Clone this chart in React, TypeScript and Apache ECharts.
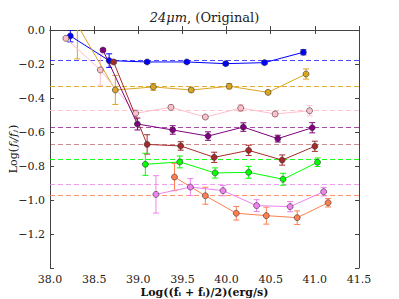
import React, { useEffect, useRef } from "react";
import * as echarts from "echarts";

// ---- data ----
const blueX = [38.23, 38.67, 39.1, 39.55, 39.99, 40.43, 40.87];
const blueY = [-0.035, -0.18, -0.188, -0.188, -0.198, -0.192, -0.131];
const blueE = [0.035, 0.04, 0.008, 0.008, 0.008, 0.008, 0.015];
const blueMean = -0.176;

const goldX = [38.31, 38.74, 39.17, 39.6, 40.03, 40.47, 40.9];
const goldY = [0.03, -0.353, -0.335, -0.353, -0.331, -0.367, -0.259];
const goldE = [0.2, 0.085, 0.02, 0.012, 0.015, 0.01, 0.03];
const goldMean = -0.33;

const pinkX = [38.18, 38.57, 38.97, 39.37, 39.76, 40.16, 40.55, 40.94];
const pinkY = [-0.049, -0.235, -0.49, -0.455, -0.512, -0.459, -0.494, -0.475];
const pinkE = [0.01, 0.09, 0.02, 0.015, 0.01, 0.02, 0.015, 0.03];
const pinkMean = -0.465;

const purpleX = [38.6, 38.99, 39.39, 39.79, 40.19, 40.58, 40.97];
const purpleY = [-0.118, -0.553, -0.588, -0.624, -0.571, -0.639, -0.575];
const purpleE = [0.01, 0.035, 0.025, 0.025, 0.025, 0.02, 0.03];
const purpleMean = -0.575;

const brownX = [38.72, 39.1, 39.48, 39.86, 40.25, 40.63, 41.0];
const brownY = [-0.188, -0.673, -0.682, -0.749, -0.708, -0.765, -0.684];
const brownE = [0.01, 0.057, 0.025, 0.03, 0.03, 0.03, 0.03];
const brownMean = -0.67;

const greenX = [39.08, 39.47, 39.87, 40.25, 40.64, 41.03];
const greenY = [-0.79, -0.776, -0.841, -0.837, -0.878, -0.778];
const greenE = [0.065, 0.035, 0.03, 0.035, 0.035, 0.025];
const greenMean = -0.755;

const violetX = [39.2, 39.59, 39.96, 40.34, 40.72, 41.1];
const violetY = [-0.967, -0.924, -0.945, -1.033, -1.039, -0.951];
const violetE = [0.11, 0.05, 0.03, 0.035, 0.03, 0.025];
const violetMean = -0.908;

const coralX = [39.41, 39.76, 40.11, 40.45, 40.8, 41.15];
const coralY = [-0.865, -0.975, -1.078, -1.092, -1.104, -1.016];
const coralE = [0.08, 0.05, 0.04, 0.05, 0.04, 0.025];
const coralMean = -0.97;

const xTickLabels = ["38.0", "38.5", "39.0", "39.5", "40.0", "40.5", "41.0", "41.5"];
const yTickLabels = ["0.0", "\u22120.2", "\u22120.4", "\u22120.6", "\u22120.8", "\u22121.0", "\u22121.2", ""];

const GROUPS = [
  { x: blueX, y: blueY, e: blueE, mean: blueMean, color: "#0000ff", dash: "rgba(0,0,255,0.7)" },
  { x: goldX, y: goldY, e: goldE, mean: goldMean, color: "#daa520", dash: "rgba(218,165,32,0.9)" },
  { x: pinkX, y: pinkY, e: pinkE, mean: pinkMean, color: "#ffc0cb", dash: "rgba(255,192,203,0.9)" },
  { x: purpleX, y: purpleY, e: purpleE, mean: purpleMean, color: "#800080", dash: "rgba(128,0,128,0.7)" },
  { x: brownX, y: brownY, e: brownE, mean: brownMean, color: "#a52a2a", dash: "rgba(165,42,42,0.55)" },
  { x: greenX, y: greenY, e: greenE, mean: greenMean, color: "#00ff00", dash: "rgba(0,255,0,0.9)" },
  { x: violetX, y: violetY, e: violetE, mean: violetMean, color: "#ee82ee", dash: "rgba(238,130,238,0.8)" },
  { x: coralX, y: coralY, e: coralE, mean: coralMean, color: "#ff7f50", dash: "rgba(255,127,80,0.85)" },
];

const FONT = "DejaVu Serif";

export default function App() {
  const ref = useRef<HTMLDivElement>(null);
  useEffect(() => {
    if (!ref.current) return;
    const chart = echarts.init(ref.current, null, { renderer: "svg" });
    const series: any[] = [];
    GROUPS.forEach((g) => {
      const data = g.x.map((xv, i) => [xv, g.y[i], g.e[i]]);
      series.push({
        type: "custom",
        clip: true,
        data,
        renderItem: (params: any, api: any) => {
          const xv = api.value(0);
          const yv = api.value(1);
          const ev = api.value(2);
          const top = api.coord([xv, yv + ev]);
          const bot = api.coord([xv, yv - ev]);
          const w = 3;
          const st = { stroke: g.color, lineWidth: 1 };
          return {
            type: "group",
            children: [
              { type: "line", shape: { x1: top[0], y1: top[1], x2: bot[0], y2: bot[1] }, style: st },
              { type: "line", shape: { x1: top[0] - w, y1: top[1], x2: top[0] + w, y2: top[1] }, style: st },
              { type: "line", shape: { x1: bot[0] - w, y1: bot[1], x2: bot[0] + w, y2: bot[1] }, style: st },
            ],
          };
        },
        z: 2,
      });
      series.push({
        type: "line",
        data: g.x.map((xv, i) => [xv, g.y[i]]),
        clip: true,
        symbol: "circle",
        symbolSize: 6,
        lineStyle: { color: g.color, width: 1 },
        itemStyle: { color: g.color, borderColor: "#333", borderWidth: 0.6 },
        z: 3,
        markLine: {
          silent: true,
          symbol: "none",
          label: { show: false },
          lineStyle: { color: g.dash, type: [5, 3], width: 1.2 },
          data: [{ yAxis: g.mean }],
          z: 1,
        },
      });
    });

    const axisLine = { show: true, lineStyle: { color: "#444", width: 1 } };
    const tick = { show: true, inside: true, length: 4, lineStyle: { color: "#444" } };
    const labelStyle = { fontFamily: FONT, fontSize: 11, lineHeight: 12, color: "#222" };

    chart.setOption({
      animation: false,
      backgroundColor: "#fff",
      textStyle: { fontFamily: FONT },
      grid: { left: 50, right: 40, top: 30, bottom: 31, containLabel: false },
      xAxis: [
        {
          type: "value", min: 38, max: 41.5, interval: 0.5, position: "bottom",
          axisLine, axisTick: tick, splitLine: { show: false },
          axisLabel: { ...labelStyle, margin: 5, formatter: (v: number) => xTickLabels[Math.round((v - 38) / 0.5)] ?? "" },
        },
        {
          type: "value", min: 38, max: 41.5, interval: 0.5, position: "top",
          axisLine, axisTick: tick, splitLine: { show: false }, axisLabel: { show: false },
        },
      ],
      yAxis: [
        {
          type: "value", min: -1.4, max: 0, interval: 0.2, position: "left",
          axisLine, axisTick: tick, splitLine: { show: false },
          axisLabel: { ...labelStyle, margin: 5, formatter: (v: number) => yTickLabels[Math.round(-v / 0.2)] ?? "" },
        },
        {
          type: "value", min: -1.4, max: 0, interval: 0.2, position: "right",
          axisLine, axisTick: tick, splitLine: { show: false }, axisLabel: { show: false },
        },
      ],
      series,
      graphic: [
        {
          type: "text", x: 204.5, y: 17,
          style: {
            text: "{it|24\u03bcm}{n|, (Original)}",
            align: "center", verticalAlign: "middle",
            rich: {
              it: { fontFamily: FONT, fontSize: 13, fontStyle: "italic", fill: "#222" },
              n: { fontFamily: FONT, fontSize: 13, fill: "#222" },
            },
          },
        },
        {
          type: "text", x: 204.5, y: 292,
          style: {
            text: "Log((f\u1d62 + f\u1d62)/2)(erg/s)",
            align: "center", verticalAlign: "middle",
            fontFamily: FONT, fontSize: 11, fontWeight: "bold", fill: "#111",
          },
        },
        {
          type: "text", x: 13, y: 149, rotation: Math.PI / 2,
          style: {
            text: "{n|Log(}{it|f\u1d62/f\u2c7c}{n|)}",
            align: "center", verticalAlign: "middle",
            rich: {
              n: { fontFamily: FONT, fontSize: 11, fill: "#111" },
              it: { fontFamily: FONT, fontSize: 11, fontStyle: "italic", fill: "#111", padding: [0, 1, 0, 1] },
            },
          },
        },
      ],
    });
    return () => chart.dispose();
  }, []);
  return <div ref={ref} style={{ position: "fixed", left: 0, top: 0, width: 399, height: 299 }} />;
}
